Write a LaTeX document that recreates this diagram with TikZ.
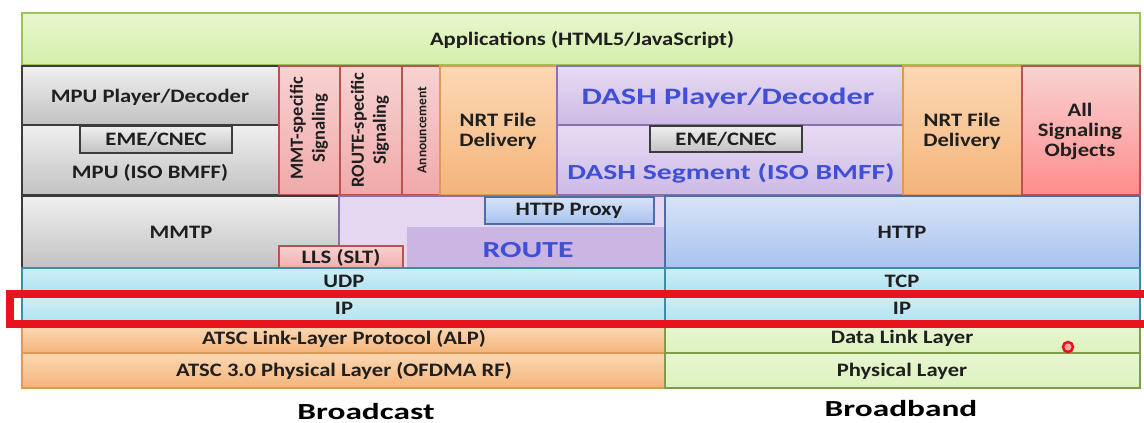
\documentclass[tikz,border=0pt]{standalone}
\usepackage{fontspec}
\setmainfont{Carlito}

\definecolor{appgreen}{HTML}{D5EFA8}
\definecolor{appline}{HTML}{9CC25A}
\definecolor{grayline}{HTML}{3C3C3C}
\definecolor{pinktop}{HTML}{F8D2D2}
\definecolor{pinkbot}{HTML}{F0A9A9}
\definecolor{pinkline}{HTML}{B85450}
\definecolor{orangetop}{HTML}{FCD8B4}
\definecolor{orangebot}{HTML}{F4B47A}
\definecolor{orangeline}{HTML}{DE9A55}
\definecolor{purpletop}{HTML}{E7DCF4}
\definecolor{purplebot}{HTML}{CDB9E5}
\definecolor{purpleline}{HTML}{8A72AC}
\definecolor{routelight}{HTML}{E4D8F1}
\definecolor{routedark}{HTML}{CBB5E2}
\definecolor{bluetop}{HTML}{D7E4F8}
\definecolor{bluebot}{HTML}{A8C2EE}
\definecolor{blueline}{HTML}{4D6DA8}
\definecolor{cyantop}{HTML}{CDEFF7}
\definecolor{cyanbot}{HTML}{AEE1EF}
\definecolor{cyanline}{HTML}{3E8DA6}
\definecolor{linkgreen}{HTML}{DDF2BE}
\definecolor{linkline}{HTML}{7F9C48}
\definecolor{dashblue}{HTML}{3F4FD6}
\definecolor{framered}{HTML}{E8141C}

\tikzset{
  box/.style={line width=1.2pt},
  greenbox/.style={box, draw=appline, top color=appgreen!55, bottom color=appgreen},
  graybox/.style={box, draw=grayline, top color=black!6, bottom color=black!24},
  pinkbox/.style={box, draw=pinkline, top color=pinktop, bottom color=pinkbot},
  redbox/.style={box, draw=pinkline, top color=pinktop, bottom color=red!45},
  orangebox/.style={box, draw=orangeline, top color=orangetop, bottom color=orangebot},
  purplebox/.style={box, draw=purpleline, top color=purpletop, bottom color=purplebot},
  bluebox/.style={box, draw=blueline, top color=bluetop, bottom color=bluebot},
  cyanbox/.style={box, draw=cyanline, top color=cyantop, bottom color=cyanbot},
  lgreenbox/.style={box, draw=linkline, top color=linkgreen!70, bottom color=linkgreen},
  lbl/.style={font=\bfseries\fontsize{19}{20}\selectfont, text=black!88, align=center, inner sep=0pt, xscale=1.19},
  rot lbl/.style={font=\bfseries\fontsize{18.5}{22}\selectfont, text=black!88, align=center, inner sep=0pt, rotate=90},
  small lbl/.style={rot lbl, font=\bfseries\fontsize{13.5}{14}\selectfont},
  big lbl/.style={lbl, font=\bfseries\fontsize{23}{25}\selectfont, text=dashblue, xscale=1.38/1.19},
  caption/.style={lbl, font=\bfseries\fontsize{23}{25}\selectfont, text=black, xscale=1.45/1.19, anchor=base},
  redframe/.style={draw=framered, line width=8pt, line join=miter}
}

\begin{document}
\begin{tikzpicture}[x=1pt, y=-1pt]
\useasboundingbox (0,0) rectangle (1144,423);

% applications
\draw[greenbox] (22,13) rectangle (1140,65);
\node[lbl] (apps) at (582,40) {Applications (HTML5/JavaScript)};

% players, signaling, delivery
\draw[graybox] (22,66) rectangle (279,125);
\node[lbl] (mpuplay) at (150,97) {MPU Player/Decoder};
\draw[graybox] (22,125) rectangle (279,195);
\node[lbl] (mpuseg) at (150,173) {MPU (ISO BMFF)};
\draw[graybox] (80,126) rectangle (232,153);
\node[lbl] (emeleft) at (156,139) {EME/CNEC};

\draw[pinkbox] (279,66) rectangle (340,195);
\node[rot lbl] (mmtsig) at (309,128) {MMT-specific\\Signaling};
\draw[pinkbox] (340,66) rectangle (402,195);
\node[rot lbl] (routesig) at (370,130) {ROUTE-specific\\Signaling};
\draw[pinkbox] (402,66) rectangle (440,195);
\node[small lbl] (annc) at (422,130) {Announcement};
\draw[orangebox] (440,66) rectangle (557,195);
\node[lbl] (nrtleft) at (498,131) {NRT File\\Delivery};

\draw[purplebox] (557,66) rectangle (903,125);
\node[big lbl, font=\bfseries\fontsize{23.5}{25}\selectfont] (dashplay) at (728,98) {DASH Player/Decoder};
\draw[purplebox] (557,125) rectangle (903,195);
\node[big lbl, font=\bfseries\fontsize{21.5}{23}\selectfont] (dashseg) at (731,173) {DASH Segment (ISO BMFF)};
\draw[graybox] (650,126) rectangle (802,152);
\node[lbl] (emeright) at (726,139) {EME/CNEC};

\draw[orangebox] (903,66) rectangle (1022,195);
\node[lbl] (nrtright) at (962,131) {NRT File\\Delivery};
\draw[redbox] (1022,66) rectangle (1140,195);
\node[lbl] (allsig) at (1080,131) {All\\Signaling\\Objects};

% transport
\draw[graybox] (22,196) rectangle (339,268);
\node[lbl] (mmtp) at (181,232) {MMTP};
\fill[routelight] (339,196) rectangle (665,268);
\fill[routedark] (407,227) rectangle (665,268);
\draw[box, draw=purpleline] (339,196) rectangle (665,268);
\draw[bluebox] (485,197) rectangle (654,224);
\node[lbl] (proxy) at (569,211) {HTTP Proxy};
\node[big lbl] (route) at (528,250) {ROUTE};
\draw[pinkbox] (279,246) rectangle (403,270);
\node[lbl] (lls) at (341,258) {LLS (SLT)};
\draw[bluebox] (665,196) rectangle (1140,268);
\node[lbl] (http) at (902,232) {HTTP};

% UDP / TCP / IP
\draw[cyanbox] (22,268) rectangle (665,296);
\node[lbl] (udp) at (344,281) {UDP};
\draw[cyanbox] (665,268) rectangle (1140,296);
\node[lbl] (tcp) at (902,281) {TCP};
\draw[cyanbox] (22,296) rectangle (665,326);
\node[lbl] (ipbc) at (344,308) {IP};
\draw[cyanbox] (665,296) rectangle (1140,326);
\node[lbl] (ipbb) at (902,308) {IP};

% link and physical
\draw[orangebox] (22,326) rectangle (665,353);
\node[lbl] (alp) at (344,339) {ATSC Link-Layer Protocol (ALP)};
\draw[lgreenbox] (665,326) rectangle (1140,353);
\node[lbl] (dll) at (902,338) {Data Link Layer};
\draw[orangebox] (22,353) rectangle (665,388);
\node[lbl] (phybc) at (344,371) {ATSC 3.0 Physical Layer (OFDMA RF)};
\draw[lgreenbox] (665,353) rectangle (1140,388);
\node[lbl] (phybb) at (902,371) {Physical Layer};

% highlight
\draw[redframe] (1150,294) -- (10,294) -- (10,324) -- (1150,324);
\node[circle, draw=framered, line width=2.5pt, fill=red!35, minimum size=10pt, inner sep=0pt] (pointer) at (1068,347) {};

\node[caption] (bcast) at (366,419) {Broadcast};
\node[caption] (bband) at (901,416) {Broadband};
\end{tikzpicture}
\end{document}
